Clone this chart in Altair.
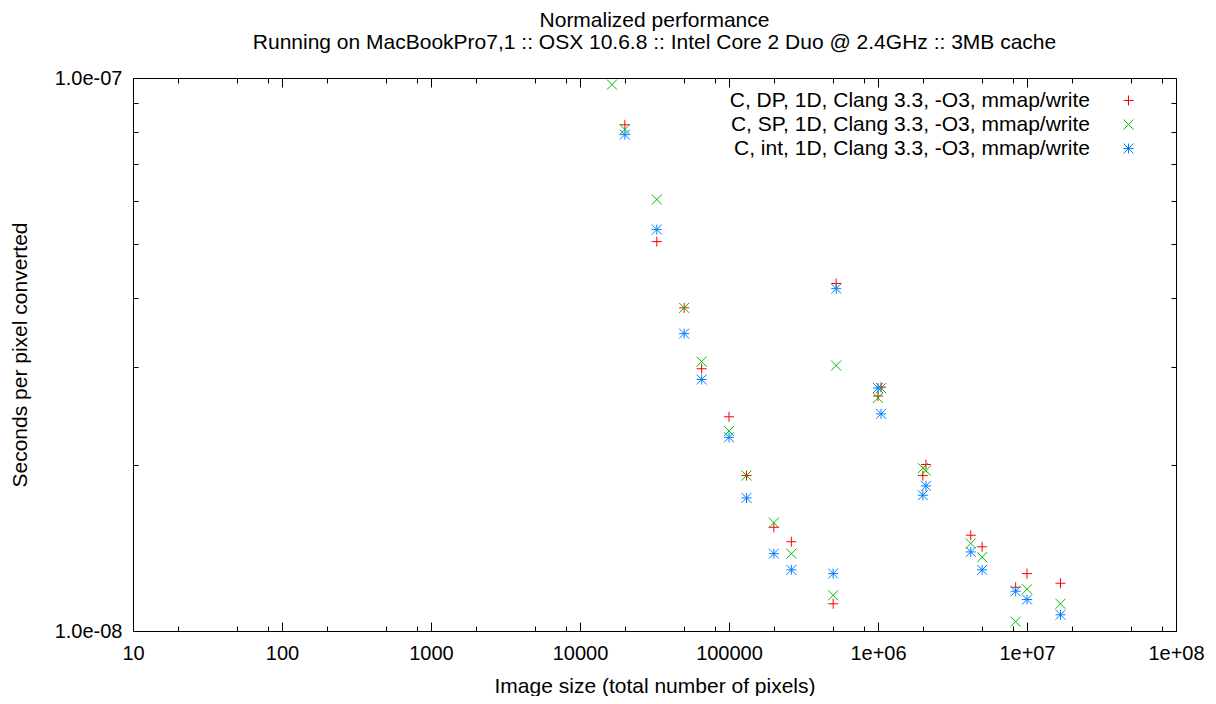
import altair as alt
import pandas as pd

# ---- data ----
sizes = [16384, 20000, 32768, 50000, 65536, 100000, 131072, 200000, 262144,
         500000, 524288, 1000000, 1048576, 2000000, 2097152, 4194304,
         5000000, 8388608, 10000000, 16777216]

dp_vals = [None, 8.23e-8, 5.06e-8, 3.84e-8, 2.98e-8, 2.44e-8, 1.91e-8, 1.54e-8, 1.45e-8,
           1.12e-8, 4.25e-8, 2.66e-8, 2.76e-8, 1.91e-8, 2.00e-8, 1.49e-8,
           1.42e-8, 1.20e-8, 1.27e-8, 1.22e-8]
sp_vals = [9.73e-8, 8.07e-8, 6.03e-8, 3.84e-8, 3.07e-8, 2.30e-8, 1.91e-8, 1.57e-8, 1.38e-8,
           1.16e-8, 3.02e-8, 2.64e-8, 2.75e-8, 1.97e-8, 1.95e-8, 1.44e-8,
           1.36e-8, 1.04e-8, 1.19e-8, 1.12e-8]
int_vals = [None, 7.90e-8, 5.32e-8, 3.45e-8, 2.85e-8, 2.24e-8, 1.74e-8, 1.38e-8, 1.29e-8,
            1.27e-8, 4.16e-8, 2.75e-8, 2.47e-8, 1.76e-8, 1.83e-8, 1.39e-8,
            1.29e-8, 1.18e-8, 1.14e-8, 1.07e-8]

series_labels = ["C, DP, 1D, Clang 3.3, -O3, mmap/write",
                 "C, SP, 1D, Clang 3.3, -O3, mmap/write",
                 "C, int, 1D, Clang 3.3, -O3, mmap/write"]
series_colors = ["#ff0000", "#00c000", "#0080ff"]
series_shapes = ["M-1,0L1,0M0,-1L0,1",
                 "M-1,-1L1,1M-1,1L1,-1",
                 "M-1,0L1,0M0,-1L0,1M-1,-1L1,1M-1,1L1,-1"]

x_major = [10, 100, 1000, 10000, 100000, 1000000, 10000000, 100000000]
x_minor = [20, 50, 80, 200, 500, 800, 2000, 5000, 8000, 20000, 50000, 80000,
           200000, 500000, 800000, 2000000, 5000000, 8000000,
           20000000, 50000000, 80000000]
y_major = [1e-8, 1e-7]
y_minor = [2e-8, 3e-8, 4e-8, 5e-8, 6e-8, 7e-8, 8e-8, 9e-8]

title_text = "Normalized performance"
subtitle_text = "Running on MacBookPro7,1 :: OSX 10.6.8 :: Intel Core 2 Duo @ 2.4GHz :: 3MB cache"
x_title = "Image size (total number of pixels)"
y_title = "Seconds per pixel converted"

rows = []
for lab, vals in zip(series_labels, [dp_vals, sp_vals, int_vals]):
    for s, v in zip(sizes, vals):
        if v is not None:
            rows.append({"size": s, "sec": v, "series": lab})
df = pd.DataFrame(rows)

FONT = "Liberation Sans"
FS = 20      # tick labels
FS_T = 21    # titles and legend

xscale = alt.Scale(type="log", domain=[10, 1e8], nice=False)
yscale = alt.Scale(type="log", domain=[1e-8, 1e-7], nice=False)

x_label_expr = ("datum.value >= 1000000 ? '1e+0' + format(log(datum.value)/log(10), '.0f')"
                " : format(datum.value, 'd')")
y_label_expr = "replace(format(datum.value, '.1e'), 'e-', 'e-0')"

base = alt.Chart(df)


def ax(orient, values, size, labels=False, **kw):
    return alt.Axis(orient=orient, values=values, tickSize=size, offset=-size,
                    labels=labels, domain=False, grid=False, ticks=True,
                    tickColor="black", tickWidth=1, **kw)


def legend():
    return alt.Legend(title=None, orient="none", legendX=985, legendY=12,
                      labelAlign="right", labelOffset={"expr": "-49"},
                      symbolSize=100, symbolStrokeWidth=1,
                      labelFontSize=FS_T, labelFont=FONT, labelColor="black",
                      rowPadding=2, padding=0, labelLimit=600)


points = base.mark_point(filled=False, strokeWidth=1, size=100, opacity=1).encode(
    x=alt.X("size:Q", scale=xscale,
            axis=ax("bottom", x_major, 9, labels=True, labelExpr=x_label_expr,
                    labelPadding=12, title=x_title, titlePadding=12,
                    labelFlush=False, labelOverlap=False)),
    y=alt.Y("sec:Q", scale=yscale,
            axis=ax("left", y_major, 9, labels=True, labelExpr=y_label_expr,
                    labelPadding=11, title=y_title, titlePadding=24,
                    labelFlush=False, labelOverlap=False)),
    color=alt.Color("series:N",
                    scale=alt.Scale(domain=series_labels, range=series_colors),
                    legend=legend()),
    shape=alt.Shape("series:N",
                    scale=alt.Scale(domain=series_labels, range=series_shapes),
                    legend=legend()),
)

ghost = base.mark_point(opacity=0)

minor_bl = ghost.encode(
    x=alt.X("size:Q", scale=xscale, axis=ax("bottom", x_minor, 5, title=None)),
    y=alt.Y("sec:Q", scale=yscale, axis=ax("left", y_minor, 5, title=None)),
)
major_tr = ghost.encode(
    x=alt.X("size:Q", scale=xscale, axis=ax("top", x_major, 9, title=None)),
    y=alt.Y("sec:Q", scale=yscale, axis=ax("right", y_major, 9, title=None)),
)
minor_tr = ghost.encode(
    x=alt.X("size:Q", scale=xscale, axis=ax("top", x_minor, 5, title=None)),
    y=alt.Y("sec:Q", scale=yscale, axis=ax("right", y_minor, 5, title=None)),
)

chart = alt.layer(points, minor_bl, major_tr, minor_tr).resolve_axis(
    x="independent", y="independent"
).properties(
    width=1043,
    height=553,
    autosize=alt.AutoSizeParams(type="none"),
    padding={"left": 125, "top": 70, "right": 32, "bottom": 65},
    title=alt.TitleParams(text=title_text, subtitle=subtitle_text, anchor="middle",
                          frame="group", font=FONT, fontSize=FS_T, fontWeight="normal",
                          color="black", subtitleFont=FONT, subtitleFontSize=FS_T,
                          subtitleColor="black", subtitlePadding=1, offset=15),
).configure(
    font=FONT,
).configure_view(
    stroke="black", strokeWidth=1
).configure_axis(
    labelFont=FONT, labelFontSize=FS, labelColor="black",
    titleFont=FONT, titleFontSize=FS_T, titleColor="black", titleFontWeight="normal",
)

chart.save("out.html", embed_options={"renderer": "svg", "actions": False})
